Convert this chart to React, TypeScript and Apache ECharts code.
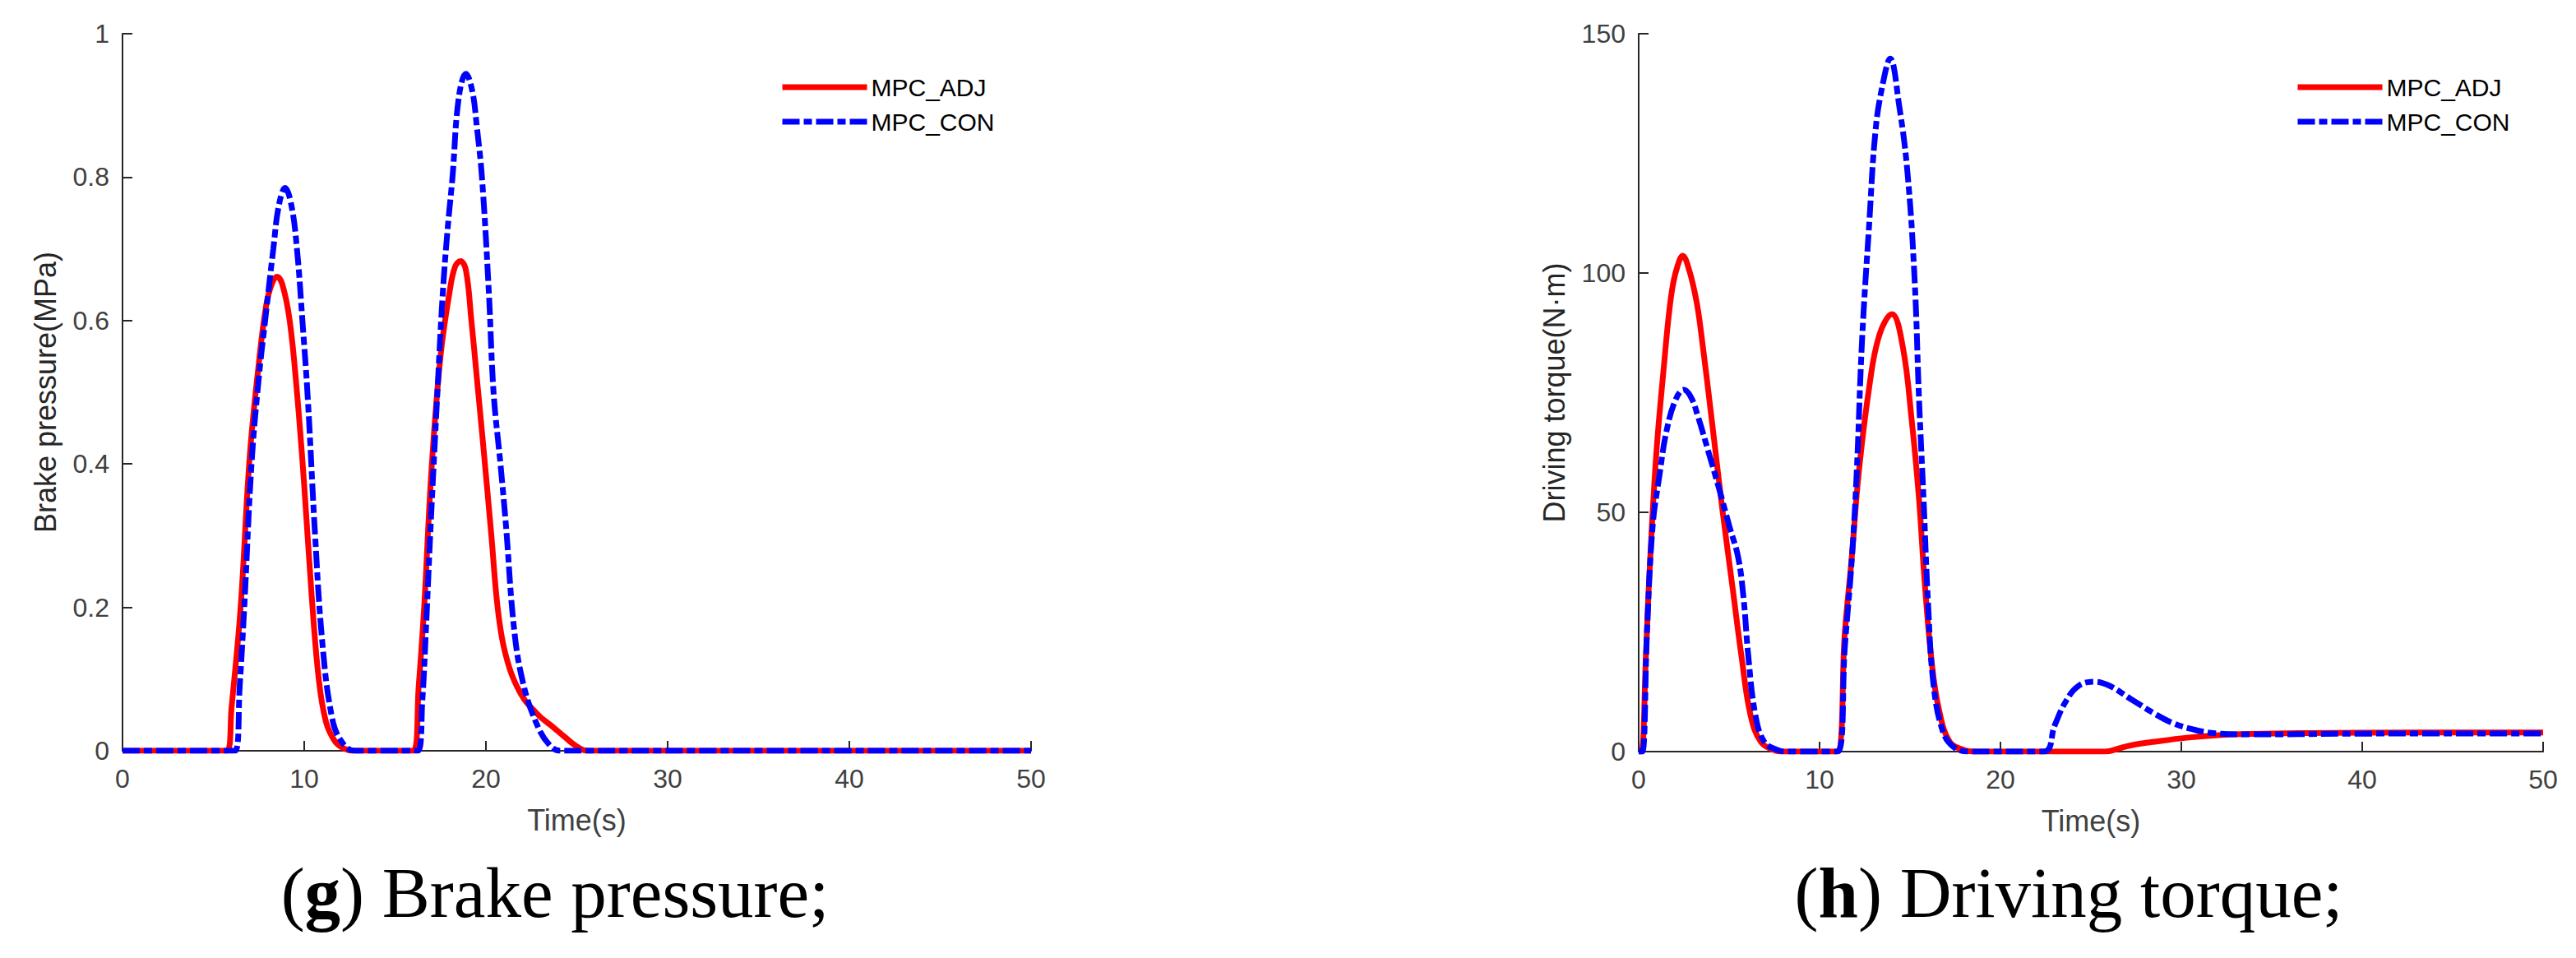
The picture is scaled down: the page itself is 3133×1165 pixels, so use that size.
import React, { useEffect, useRef } from "react";
import * as echarts from "echarts";

// ---------- data ----------
const seriesNames = ["MPC_ADJ", "MPC_CON"];
const timeTicks = [0, 10, 20, 30, 40, 50];
const brakeTicks = [0, 0.2, 0.4, 0.6, 0.8, 1];
const torqueTicks = [0, 50, 100, 150];

// (g) Brake pressure (MPa)
const brakeAdjT = [0, 5.75, 6.0, 6.5, 7.0, 7.5, 7.9, 8.2, 8.5, 8.8, 9.2, 9.6, 10.0, 10.4, 10.8, 11.2, 11.7, 12.2, 12.7, 16.0, 16.3, 16.6, 17.0, 17.5, 18.0, 18.3, 18.6, 18.9, 19.2, 19.5, 19.8, 20.3, 20.6, 20.9, 21.3, 21.7, 22.1, 22.5, 23.0, 23.6, 24.3, 25.0, 25.6, 50];
const brakeAdjV = [0, 0, 0.06, 0.2, 0.41, 0.54, 0.62, 0.65, 0.661, 0.65, 0.6, 0.5, 0.37, 0.22, 0.1, 0.04, 0.013, 0.003, 0, 0, 0.09, 0.2, 0.39, 0.55, 0.64, 0.675, 0.683, 0.67, 0.6, 0.52, 0.44, 0.3, 0.21, 0.155, 0.115, 0.09, 0.072, 0.06, 0.047, 0.035, 0.02, 0.006, 0, 0];
const brakeConT = [0, 6.2, 6.45, 6.7, 7.1, 7.5, 7.85, 8.3, 8.6, 8.95, 9.3, 9.6, 9.9, 10.2, 10.6, 11.0, 11.5, 12.0, 12.8, 16.25, 16.5, 16.7, 16.96, 17.33, 17.63, 17.9, 18.16, 18.5, 18.9, 19.25, 19.5, 19.78, 20.16, 20.42, 20.8, 21.1, 21.55, 22.04, 22.8, 23.5, 24.1, 50];
const brakeConV = [0, 0, 0.09, 0.2, 0.4, 0.52, 0.6, 0.7, 0.76, 0.785, 0.76, 0.7, 0.6, 0.49, 0.3, 0.15, 0.05, 0.015, 0, 0, 0.07, 0.17, 0.315, 0.5, 0.64, 0.73, 0.8, 0.91, 0.944, 0.92, 0.87, 0.8, 0.64, 0.5, 0.4, 0.315, 0.17, 0.095, 0.037, 0.008, 0, 0];

// (h) Driving torque (N·m)
const torqueAdjT = [0, 0.15, 0.4, 0.58, 0.97, 1.43, 1.66, 1.89, 2.15, 2.43, 2.8, 3.2, 3.47, 4.05, 4.63, 5.2, 5.68, 6.18, 6.76, 7.5, 8.0, 10.93, 11.4, 11.78, 12.16, 12.74, 13.3, 14.0, 14.6, 15.1, 15.5, 15.8, 16.2, 16.6, 17.2, 18.0, 18.5, 25.8, 26.5, 27.2, 28.8, 30.3, 31.9, 33.8, 40, 50];
const torqueAdjV = [0, 0, 20, 36, 62, 82, 91, 97.5, 101.5, 103.6, 100.5, 94, 87, 69, 50.5, 34, 20, 7.7, 2, 0.3, 0, 0, 25, 40.6, 58, 76, 87, 91.4, 84.6, 69, 52.7, 36, 18.7, 8.8, 2, 0.3, 0, 0, 0.6, 1.3, 2.2, 2.9, 3.4, 3.7, 3.95, 4.0];
const torqueConT = [0, 0.2, 0.46, 0.77, 1.16, 1.54, 2.05, 2.5, 2.9, 3.28, 3.86, 4.44, 5.02, 5.5, 5.8, 6.06, 6.45, 6.95, 7.7, 8.2, 11.0, 11.4, 11.78, 12.05, 12.35, 12.74, 13.1, 13.5, 13.9, 14.4, 14.86, 15.25, 15.5, 15.75, 16.0, 16.3, 16.8, 17.4, 18.3, 22.4, 23.0, 23.6, 24.3, 25.2, 26.06, 27.2, 28.4, 29.5, 30.7, 31.8, 33.8, 40, 50];
const torqueConV = [0, 0, 25, 47, 58, 67, 73.6, 75.6, 74, 70, 62.6, 55, 47, 40.6, 32, 20, 7.7, 2, 0.3, 0, 0, 22, 40, 58, 86, 110, 130, 139.6, 144.8, 135, 121, 99, 73.6, 52.7, 30.8, 14, 4.4, 1, 0, 0, 5.5, 10.4, 13.7, 14.6, 13.7, 11, 8.2, 6, 4.6, 3.85, 3.6, 3.75, 3.8];

const captionLeft = ["g", " Brake pressure;"];
const captionRight = ["h", " Driving torque;"];
const yNames = ["Brake pressure(MPa)", "Driving torque(N·m)"];
const xName = "Time(s)";

// ---------- styles ----------
const SANS = "'Liberation Sans', Arial, sans-serif";
const SERIF = "'Liberation Serif', 'Times New Roman', serif";
const AXIS_COLOR = "#262626";
const TICK_COLOR = "#404040";
const RED = "#ff0000";
const BLUE = "#0000ff";
const DASHDOT = [21, 5, 10, 5];

const zip = (t: number[], v: number[]) => t.map((x, i) => [x, v[i]]);

function xAxisCfg(gridIndex: number) {
  return {
    type: "value",
    gridIndex,
    min: timeTicks[0],
    max: timeTicks[timeTicks.length - 1],
    interval: timeTicks[1] - timeTicks[0],
    name: xName,
    nameLocation: "middle",
    nameGap: 66,
    nameTextStyle: { fontFamily: SANS, fontSize: 36, color: TICK_COLOR },
    axisLine: { show: true, onZero: false, lineStyle: { color: AXIS_COLOR, width: 2 } },
    axisTick: { show: true, inside: true, length: 12, lineStyle: { color: AXIS_COLOR, width: 2 } },
    axisLabel: { fontFamily: SANS, fontSize: 32, color: TICK_COLOR, margin: 18 },
    splitLine: { show: false },
  };
}

function yAxisCfg(gridIndex: number, ticks: number[], name: string, gap: number) {
  return {
    type: "value",
    gridIndex,
    min: ticks[0],
    max: ticks[ticks.length - 1],
    interval: ticks[1] - ticks[0],
    name,
    nameLocation: "middle",
    nameGap: gap,
    nameTextStyle: { fontFamily: SANS, fontSize: 36, color: AXIS_COLOR },
    axisLine: { show: true, onZero: false, lineStyle: { color: AXIS_COLOR, width: 2 } },
    axisTick: { show: true, inside: true, length: 12, lineStyle: { color: AXIS_COLOR, width: 2 } },
    axisLabel: { fontFamily: SANS, fontSize: 32, color: TICK_COLOR, margin: 16 },
    splitLine: { show: false },
  };
}

function lineSeries(name: string, idx: number, data: number[][], color: string, dash: any) {
  return {
    type: "line",
    name,
    xAxisIndex: idx,
    yAxisIndex: idx,
    data,
    showSymbol: false,
    symbol: "none",
    smooth: 0.4,
    lineStyle: { color, width: 7, type: dash },
    itemStyle: { color },
    emphasis: { disabled: true },
  };
}

function legendCfg(left: number) {
  return {
    orient: "vertical",
    left,
    top: 86,
    itemWidth: 103,
    itemHeight: 30,
    itemGap: 12,
    data: seriesNames,
    selectedMode: false,
    textStyle: { fontFamily: SANS, fontSize: 30, color: "#000000" },
    itemStyle: { opacity: 0 },
    lineStyle: { width: "inherit" },
  };
}

function caption(x: number, parts: string[]) {
  return {
    type: "text",
    x,
    y: 1085,
    style: {
      text: "(" + "{b|" + parts[0] + "})" + parts[1],
      fontFamily: SERIF,
      fontSize: 87,
      fill: "#000000",
      align: "center",
      verticalAlign: "middle",
      rich: {
        b: { fontFamily: SERIF, fontSize: 87, fontWeight: "bold", fill: "#000000" },
      },
    },
    silent: true,
  };
}

export default function App() {
  const ref = useRef<HTMLDivElement>(null);
  useEffect(() => {
    if (!ref.current) return;
    const chart = echarts.init(ref.current, undefined, { renderer: "svg" });
    chart.setOption({
      animation: false,
      backgroundColor: "#ffffff",
      grid: [
        { left: 149, top: 41, width: 1105, height: 872, containLabel: false },
        { left: 1993, top: 41, width: 1100, height: 873, containLabel: false },
      ],
      xAxis: [xAxisCfg(0), xAxisCfg(1)],
      yAxis: [yAxisCfg(0, brakeTicks, yNames[0], 76), yAxisCfg(1, torqueTicks, yNames[1], 85)],
      legend: [legendCfg(943), legendCfg(2786)],
      series: [
        lineSeries(seriesNames[0], 0, zip(brakeAdjT, brakeAdjV), RED, "solid"),
        lineSeries(seriesNames[1], 0, zip(brakeConT, brakeConV), BLUE, DASHDOT),
        lineSeries(seriesNames[0], 1, zip(torqueAdjT, torqueAdjV), RED, "solid"),
        lineSeries(seriesNames[1], 1, zip(torqueConT, torqueConV), BLUE, DASHDOT),
      ],
      graphic: [caption(675, captionLeft), caption(2516, captionRight)],
    });
    return () => chart.dispose();
  }, []);
  return (
    <div
      ref={ref}
      style={{ position: "fixed", left: 0, top: 0, width: 3133, height: 1165, background: "#fff" }}
    />
  );
}
